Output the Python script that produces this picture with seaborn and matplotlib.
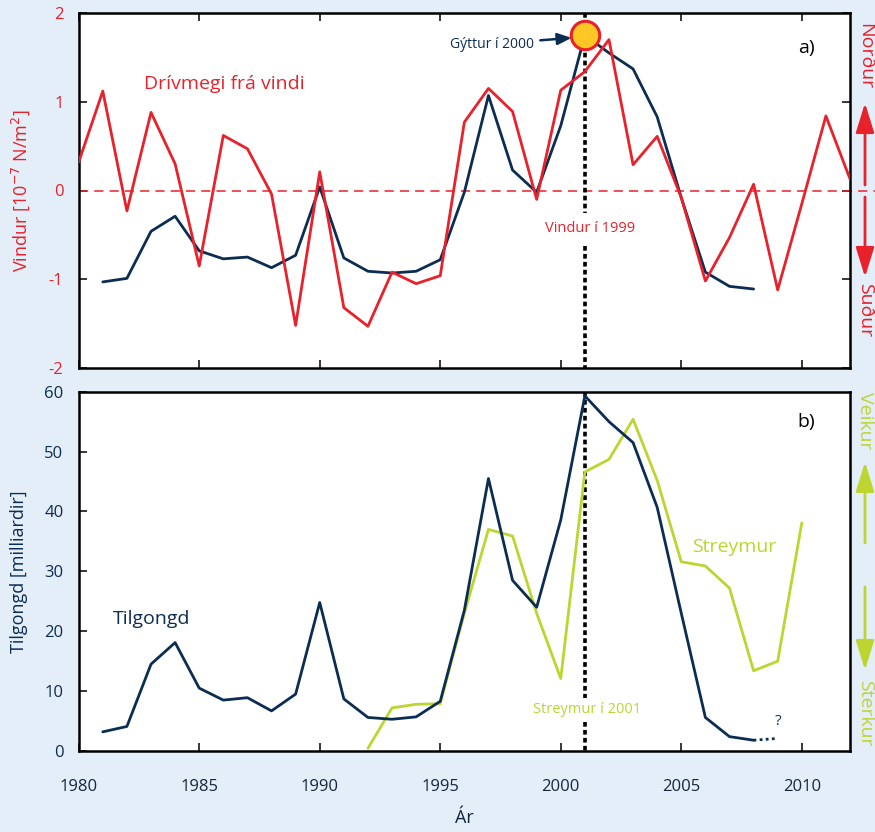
import matplotlib
matplotlib.use("Agg")
import matplotlib.pyplot as plt
import numpy as np
import pandas as pd
import seaborn as sns

# ---------------- data ----------------
wind_years = list(range(1980, 2013))
wind = [0.32, 1.12, -0.23, 0.88, 0.30, -0.85, 0.62, 0.47, -0.04, -1.52,
        0.21, -1.32, -1.53, -0.92, -1.05, -0.96, 0.77, 1.15, 0.89, -0.10,
        1.13, 1.34, 1.70, 0.29, 0.61, -0.08, -1.02, -0.53, 0.07, -1.12,
        -0.15, 0.84, 0.13]

spawn_years = list(range(1981, 2009))
spawn_scaled = [-1.03, -0.99, -0.46, -0.29, -0.68, -0.77, -0.75, -0.87, -0.73, 0.04,
                -0.76, -0.91, -0.93, -0.91, -0.78, -0.02, 1.07, 0.23, -0.02, 0.73,
                1.75, 1.55, 1.37, 0.83, -0.08, -0.92, -1.08, -1.11]

recruit_years = list(range(1981, 2009))
recruit = [3.2, 4.1, 14.5, 18.1, 10.5, 8.5, 8.9, 6.7, 9.5, 24.8,
           8.7, 5.6, 5.3, 5.7, 8.3, 23.5, 45.5, 28.5, 24.0, 38.6,
           59.3, 55.0, 51.5, 40.7, 23.0, 5.6, 2.4, 1.8]
recruit_ext_years = [2008, 2009]
recruit_ext = [1.8, 2.1]

current_years = list(range(1992, 2011))
current = [0.45, 7.2, 7.8, 7.9, 23.0, 37.0, 35.9, 23.0, 12.1, 46.6,
           48.7, 55.4, 45.2, 31.6, 30.9, 27.2, 13.4, 15.0, 38.1]

peak_year = [2001]
peak_value = [1.75]

x_ticks = [1980, 1985, 1990, 1995, 2000, 2005, 2010]
top_yticks = [-2, -1, 0, 1, 2]
bot_yticks = [0, 10, 20, 30, 40, 50, 60]

# ---------------- style ----------------
RED = "#E8212B"
NAVY = "#0C2D52"
GREEN = "#BCD531"
YELLOW = "#FFC726"
BG = "#E4EEF8"

sns.set_theme(style="ticks")
plt.rcParams["font.family"] = ["Open Sans", "DejaVu Sans"]
plt.rcParams["axes.unicode_minus"] = False

W, H = 875, 832
fig = plt.figure(figsize=(W / 100, H / 100), dpi=100, facecolor=BG)


def fx(px):
    return px / W


def fy(py):
    return 1 - py / H


ax1 = fig.add_axes([fx(78.7), fy(368), fx(850) - fx(78.7), fy(13) - fy(368)])
ax2 = fig.add_axes([fx(78.7), fy(751), fx(850) - fx(78.7), fy(391.7) - fy(751)])

for ax in (ax1, ax2):
    ax.set_facecolor("white")
    for s in ax.spines.values():
        s.set_linewidth(1.8)
        s.set_color("black")

# ---------------- top panel ----------------
df_wind = pd.DataFrame({"year": wind_years, "value": wind})
df_spawn = pd.DataFrame({"year": spawn_years, "value": spawn_scaled})
ax1.plot([1980, 2013.1], [0, 0], color=RED, lw=1.1, dashes=(6, 4), clip_on=False, zorder=1)
sns.lineplot(data=df_spawn, x="year", y="value", ax=ax1, color=NAVY, lw=2.0, zorder=3)
sns.lineplot(data=df_wind, x="year", y="value", ax=ax1, color=RED, lw=2.0, zorder=4)
# dotted vertical line at 2001 with gap for label
ax1.plot([2001, 2001], [2.0, -0.25], color="black", lw=2.6, linestyle=(0, (1.3, 0.9)), zorder=2)
ax1.plot([2001, 2001], [-0.62, -2.0], color="black", lw=2.6, linestyle=(0, (1.3, 0.9)), zorder=2)
sns.scatterplot(x=peak_year, y=peak_value, ax=ax1, s=420, color=YELLOW,
                edgecolor=RED, linewidth=2.2, zorder=6, clip_on=False)

ax1.set_xlim(1980, 2012)
ax1.set_ylim(-2, 2)
ax1.set_xticks(x_ticks)
ax1.set_yticks(top_yticks)
ax1.set_xticklabels([])
ax1.set_yticklabels([str(v) for v in top_yticks])
ax1.tick_params(axis="x", direction="in", length=6, width=1.3, top=True, bottom=True)
ax1.tick_params(axis="y", direction="in", length=6, width=1.3, left=True, right=True,
                labelcolor=RED, labelsize=12, pad=11)
ax1.set_xlabel("")
ax1.set_ylabel("Vindur [10$^{-7}$ N/m$^2$]", color=RED, fontsize=13, labelpad=12)

ax1.text(1982.7, 1.2, "Drívmegi frá vindi", color=RED, fontsize=14, va="center", ha="left")
ax1.annotate("Gýttur í 2000", xy=(2000.45, 1.72), xytext=(1998.9, 1.65),
             color=NAVY, fontsize=10, ha="right", va="center",
             arrowprops=dict(arrowstyle="-|>,head_length=0.6,head_width=0.25",
                             color=NAVY, lw=1.8, mutation_scale=14, shrinkA=2, shrinkB=0))
ax1.text(2001.2, -0.43, "Vindur í 1999", color=RED, fontsize=10.5, ha="center", va="center")
ax1.text(2009.85, 1.6, "a)", color="black", fontsize=14, ha="left", va="center")

# ---------------- bottom panel ----------------
df_rec = pd.DataFrame({"year": recruit_years, "value": recruit})
df_rec_ext = pd.DataFrame({"year": recruit_ext_years, "value": recruit_ext})
df_cur = pd.DataFrame({"year": current_years, "value": current})
ax2.plot([2001, 2001], [60, 8.8], color="black", lw=2.6, linestyle=(0, (1.3, 0.9)), zorder=2)
ax2.plot([2001, 2001], [4.9, 0], color="black", lw=2.6, linestyle=(0, (1.3, 0.9)), zorder=2)
sns.lineplot(data=df_cur, x="year", y="value", ax=ax2, color=GREEN, lw=2.0, zorder=3)
sns.lineplot(data=df_rec, x="year", y="value", ax=ax2, color=NAVY, lw=2.0, zorder=4)
sns.lineplot(data=df_rec_ext, x="year", y="value", ax=ax2, color=NAVY, lw=2.0,
             linestyle=(0, (1, 1.2)), zorder=4)

ax2.set_xlim(1980, 2012)
ax2.set_ylim(0, 60)
ax2.set_xticks(x_ticks)
ax2.set_yticks(bot_yticks)
ax2.set_xticklabels([str(v) for v in x_ticks])
ax2.set_yticklabels([str(v) for v in bot_yticks])
ax2.tick_params(axis="x", direction="in", length=6, width=1.3, top=False, bottom=True,
                labelcolor="#16263d", labelsize=12, pad=20)
ax2.tick_params(axis="y", direction="in", length=6, width=1.3, left=True, right=False,
                labelcolor=NAVY, labelsize=12, pad=11)
ax2.set_xlabel("Ár", color="#16263d", fontsize=13, labelpad=10)
ax2.set_ylabel("Tilgongd [milliardir]", color=NAVY, fontsize=13, labelpad=12)

ax2.text(1981.4, 22.0, "Tilgongd", color=NAVY, fontsize=14, ha="left", va="center")
ax2.text(2005.45, 34.0, "Streymur", color=GREEN, fontsize=14, ha="left", va="center")
ax2.text(2001.1, 6.9, "Streymur í 2001", color=GREEN, fontsize=10.5, ha="center", va="center")
ax2.text(2009.0, 5.0, "?", color=NAVY, fontsize=11, ha="center", va="center")
ax2.text(2009.8, 54.9, "b)", color="black", fontsize=14, ha="left", va="center")

# ---------------- right-side direction labels ----------------
XR = fx(865)


def side_arrow(y_tail, y_tip, color):
    ax1.annotate("", xy=(XR, fy(y_tip)), xytext=(XR, fy(y_tail)),
                 xycoords="figure fraction", textcoords="figure fraction",
                 annotation_clip=False,
                 arrowprops=dict(arrowstyle="-|>,head_length=0.9,head_width=0.28",
                                 color=color, lw=2.0, mutation_scale=20,
                                 shrinkA=0, shrinkB=0))


fig.text(XR, fy(56), "Norður", color=RED, fontsize=14, rotation=-90, ha="center", va="center")
fig.text(XR, fy(310), "Suður", color=RED, fontsize=14, rotation=-90, ha="center", va="center")
side_arrow(185, 103, RED)
side_arrow(197, 277, RED)

fig.text(XR, fy(421), "Veikur", color=GREEN, fontsize=14, rotation=-90, ha="center", va="center")
fig.text(XR, fy(713), "Sterkur", color=GREEN, fontsize=14, rotation=-90, ha="center", va="center")
side_arrow(543, 462, GREEN)
side_arrow(587, 670, GREEN)

fig.savefig("out.png", dpi=100, facecolor=BG)
